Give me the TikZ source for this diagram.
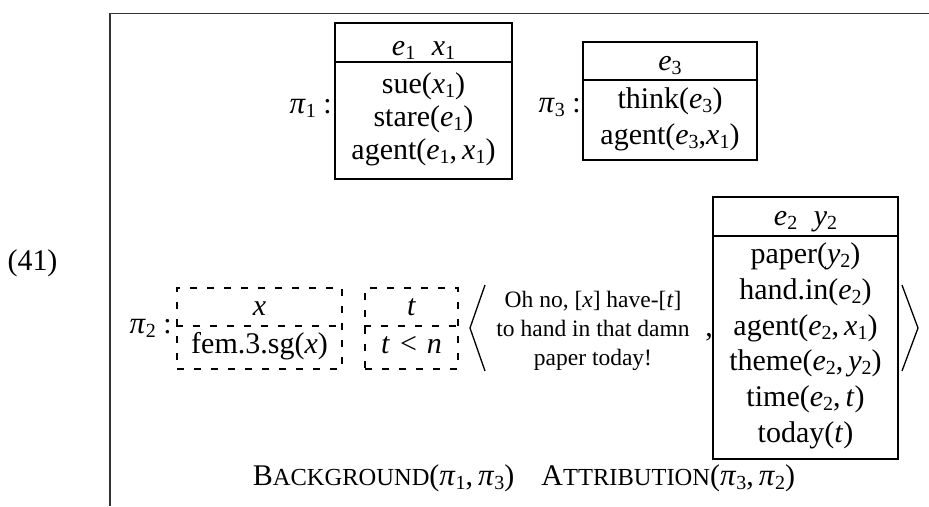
\documentclass[tikz,border=0pt]{standalone}
\usepackage{fontspec}
\setmainfont{Liberation Serif}
\newcommand\vi[1]{\textit{#1}}
\newcommand\lo[1]{\raisebox{-4pt}{\fontsize{20}{20}\selectfont #1}}
\newcommand\pv[1]{{\fontsize{31}{31}\selectfont\textit{π}}\lo{#1}}
\tikzset{
  txt/.style={font=\fontsize{30}{34}\selectfont, inner sep=0pt, anchor=base},
  speech/.style={font=\fontsize{23.5}{28}\selectfont, inner sep=0pt, anchor=base},
  drsbox/.style={draw, line width=1.2pt, inner sep=0pt},
  dashbox/.style={draw, line width=1.1pt, inner sep=0pt, dash pattern=on 7pt off 10pt},
  frame/.style={line width=1.4pt, black!80},
  angle/.style={line width=1.3pt}
}
\begin{document}
\begin{tikzpicture}[x=1pt,y=-1pt]
\useasboundingbox (0,0) rectangle (929,506);
% frame
\coordinate (fb) at (110,506);
\coordinate (fc) at (110,13.5);
\coordinate (fr) at (929,13.5);
\draw[frame] (fb) -- (fc) -- (fr);
\node[txt] (num) at (32.5,270) {(41)};

% pi1
\node[txt, anchor=base east] (l1) at (332,113) {\pv{1} :};
\node[drsbox, minimum width=177pt, minimum height=156pt] (k1) at (423.5,101) {};
\draw[line width=1.2pt] (k1.west |- 0,62) -- (k1.east |- 0,62);
\node[txt] (k1h) at (423.5,55) {\vi{e}\lo{1}\hspace{0.55em}\vi{x}\lo{1}};
\node[txt] (k1a) at (423.5,93) {sue(\vi{x}\lo{1})};
\node[txt] (k1b) at (423.5,126) {stare(\vi{e}\lo{1})};
\node[txt] (k1c) at (423.5,159) {agent(\vi{e}\lo{1},\,\vi{x}\lo{1})};

% pi3
\node[txt, anchor=base east] (l3) at (581,112) {\pv{3} :};
\node[drsbox, minimum width=174pt, minimum height=118pt] (k3) at (670,101) {};
\draw[line width=1.2pt] (k3.west |- 0,80) -- (k3.east |- 0,80);
\node[txt] (k3h) at (670,70) {\vi{e}\lo{3}};
\node[txt] (k3a) at (670,108) {think(\vi{e}\lo{3})};
\node[txt] (k3b) at (670,144) {agent(\vi{e}\lo{3},\vi{x}\lo{1})};

% pi2
\node[txt, anchor=base east] (l2) at (172,333) {\pv{2} :};
\node[dashbox, minimum width=165pt, minimum height=81pt] (d1) at (259.5,328.5) {};
\draw[line width=1.1pt, dash pattern=on 7pt off 10pt] (d1.west |- 0,326) -- (d1.east |- 0,326);
\node[txt] (d1h) at (259.5,315) {\vi{x}};
\node[txt] (d1a) at (259.5,353) {fem.3.sg(\vi{x})};
\node[dashbox, minimum width=93pt, minimum height=81pt] (d2) at (411.5,328.5) {};
\draw[line width=1.1pt, dash pattern=on 7pt off 10pt] (d2.west |- 0,326) -- (d2.east |- 0,326);
\node[txt] (d2h) at (411.5,315) {\vi{t}};
\node[txt] (d2a) at (411.5,353) {\vi{t}\,\,<\,\,\vi{n}};

% left angle
\coordinate (la1) at (485,285);
\coordinate (la2) at (470,328);
\coordinate (la3) at (485,371);
\draw[angle] (la1) -- (la2) -- (la3);

\node[speech] (s1) at (593,307) {Oh no, [\vi{x}] have-[\vi{t}]};
\node[speech] (s2) at (593,336) {to hand in that damn};
\node[speech] (s3) at (593,365) {paper today!};
\node[txt] (cm) at (709,336) {,};

% e2 box
\node[drsbox, minimum width=185pt, minimum height=262pt] (k2) at (805.5,328) {};
\draw[line width=1.2pt] (k2.west |- 0,236) -- (k2.east |- 0,236);
\node[txt] (k2h) at (805.5,225) {\vi{e}\lo{2}\hspace{0.55em}\vi{y}\lo{2}};
\node[txt] (k2a) at (805.5,263) {paper(\vi{y}\lo{2})};
\node[txt] (k2b) at (805.5,299) {hand.in(\vi{e}\lo{2})};
\node[txt] (k2c) at (805.5,335) {agent(\vi{e}\lo{2},\,\vi{x}\lo{1})};
\node[txt] (k2d) at (805.5,370) {theme(\vi{e}\lo{2},\,\vi{y}\lo{2})};
\node[txt] (k2e) at (805.5,406) {time(\vi{e}\lo{2},\,\vi{t})};
\node[txt] (k2f) at (805.5,442) {today(\vi{t})};

% right angle
\coordinate (ra1) at (902,285);
\coordinate (ra2) at (918,328);
\coordinate (ra3) at (902,371);
\draw[angle] (ra1) -- (ra2) -- (ra3);

% relations
\node[txt] (rel) at (524,485) {B{\fontsize{24.5}{24}\selectfont ACKGROUND}(\pv{1},\,\pv{3})\hspace{0.9em}A{\fontsize{24.5}{24}\selectfont TTRIBUTION}(\pv{3},\,\pv{2})};
\end{tikzpicture}
\end{document}
